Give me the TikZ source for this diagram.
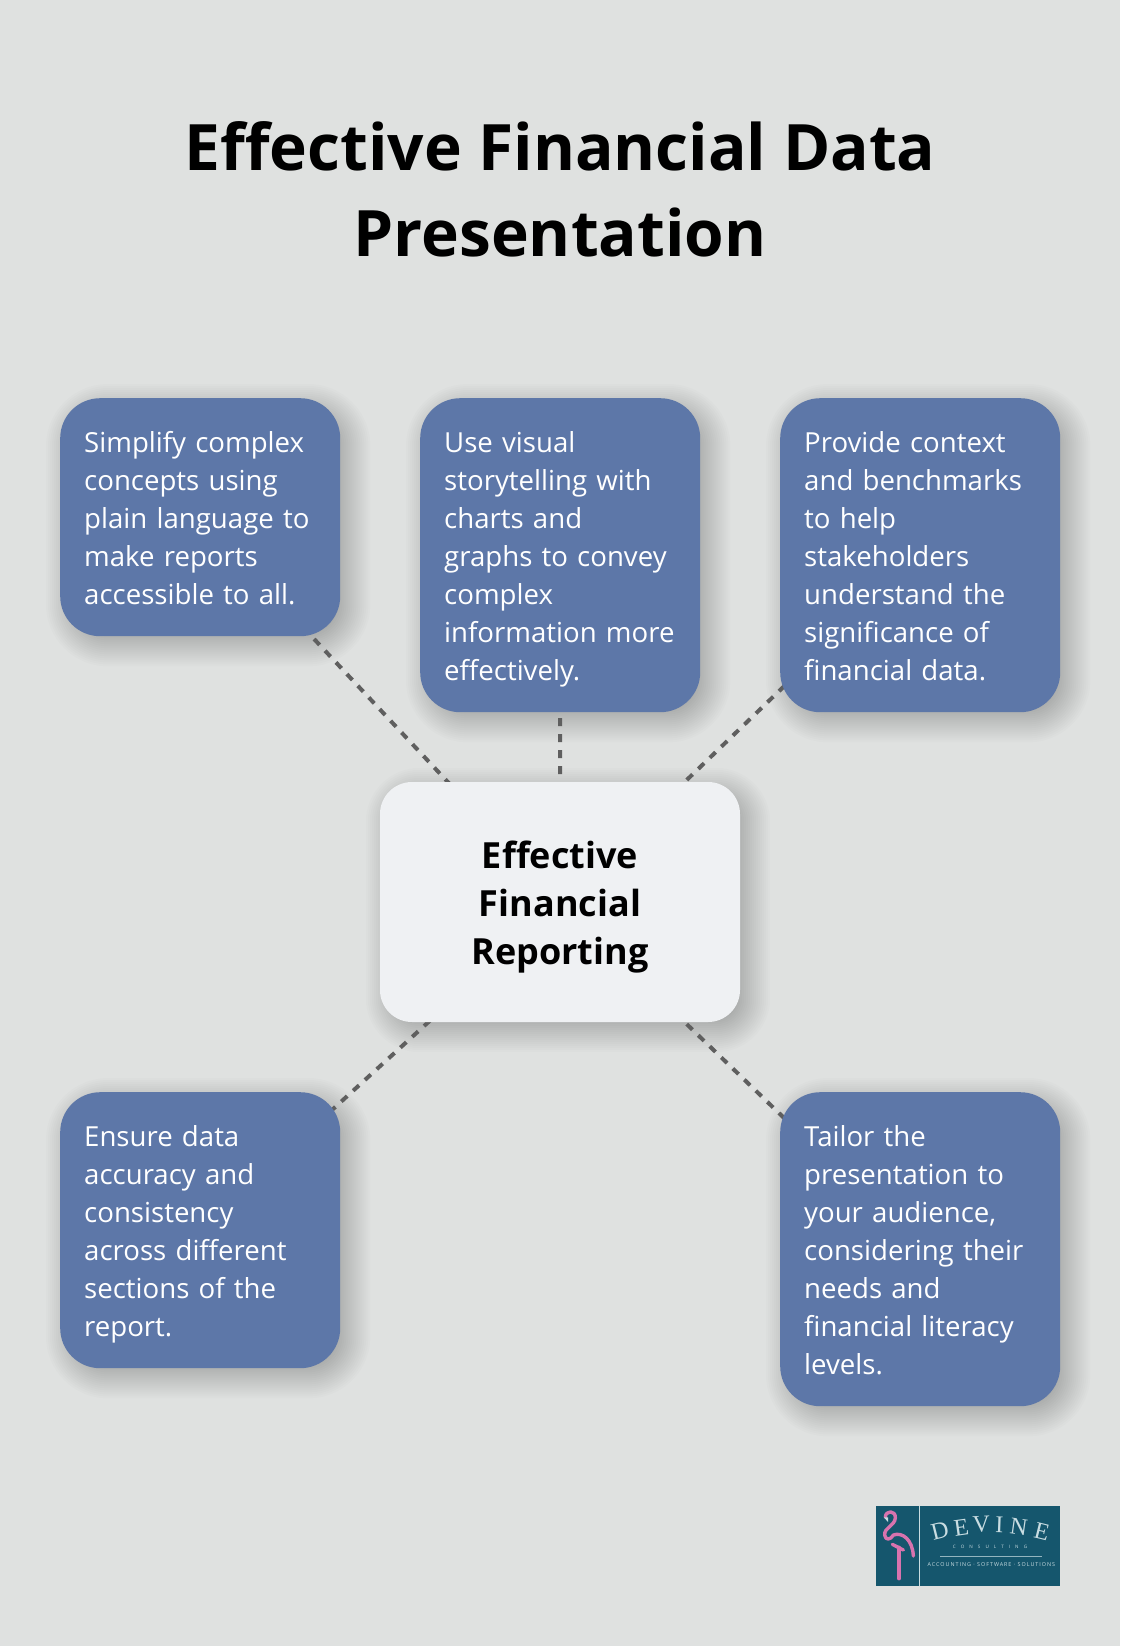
\documentclass[tikz,border=0pt]{standalone}
\usepackage{fontspec}
\setmainfont{Open Sans}
\newfontfamily\logoserif{Liberation Serif}
\newfontfamily\logocaps[LetterSpace=110]{Open Sans}
\newfontfamily\logotag[LetterSpace=18]{Open Sans}
\usetikzlibrary{calc}
\definecolor{bgc}{HTML}{DFE1E0}
\definecolor{boxc}{HTML}{5D77A8}
\definecolor{hubc}{HTML}{EFF1F3}
\definecolor{dashc}{HTML}{5F5F5F}
\definecolor{logoc}{HTML}{15566D}
\definecolor{pinkc}{HTML}{D873AE}
\definecolor{logotxt}{HTML}{C9DDE2}
\newcommand{\topstrut}{\rule{0pt}{30pt}}
\newcommand{\botstrut}{\rule[-8pt]{0pt}{8pt}}
\pgfdeclarelayer{canvas}
\pgfdeclarelayer{under}
\pgfsetlayers{canvas,under,main}
\tikzset{
  titletext/.style={font=\fontsize{64}{86}\selectfont\bfseries,text=black,align=center,inner sep=0pt},
  infobox/.style={fill=boxc,text=white,rounded corners=40pt,inner sep=24pt,text width=232pt,align=left,
    anchor=north west,font=\fontsize{27.6}{38}\selectfont},
  hubbox/.style={fill=hubc,text=black,rounded corners=32pt,inner sep=0pt,minimum width=360pt,minimum height=240pt,
    align=center,font=\fontsize{36}{48}\selectfont\bfseries},
  linkline/.style={draw=dashc,line width=4pt,dash pattern=on 8pt off 8pt},
  flamingo/.style={draw=pinkc,line width=3.4pt,line cap=round,line join=round},
  logoletter/.style={text=logotxt,inner sep=0pt,font=\logoserif\fontsize{24}{24}\selectfont},
  logosmall/.style={text=logotxt,inner sep=0pt},
}
\begin{document}
\begin{tikzpicture}[x=1pt,y=-1pt]
\useasboundingbox (0,0) rectangle (1120,1646);
\begin{pgfonlayer}{canvas}
\fill[bgc] (0,0) rectangle (1120,1646);
\end{pgfonlayer}
\node[titletext] (title) at (560,189) {Effective Financial Data\\Presentation};
\node[infobox] (b1) at (60,398) {\topstrut Simplify complex\\concepts using\\plain language to\\make reports\\accessible to all.\botstrut};
\node[infobox] (b2) at (420,398) {\topstrut Use visual\\storytelling with\\charts and\\graphs to convey\\complex\\\makebox[232pt][l]{information more}\\effectively.\botstrut};
\node[infobox] (b3) at (780,398) {\topstrut Provide context\\and benchmarks\\to help\\stakeholders\\understand the\\significance of\\financial data.\botstrut};
\node[infobox] (b4) at (60,1092) {\topstrut Ensure data\\accuracy and\\consistency\\across different\\sections of the\\report.\botstrut};
\node[infobox] (b5) at (780,1092) {\topstrut Tailor the\\presentation to\\your audience,\\considering their\\needs and\\financial literacy\\levels.\botstrut};
\node[hubbox] (hub) at (560,902) {\rule{0pt}{37pt}Effective\\Financial\\Reporting};
\begin{pgfonlayer}{under}
  \foreach \n/\r in {b1/40,b2/40,b3/40,b4/40,b5/40,hub/32}{
    \foreach \k in {-14,-12,...,22}{
      \pgfmathsetmacro{\rad}{\r+\k}
      \fill[black,fill opacity=.013,rounded corners=\rad pt]
        ($(\n.south west)+(8-\k,8+\k)$) rectangle ($(\n.north east)+(8+\k,8-\k)$);
    }
  }
  \foreach \n in {b1,b2,b3,b4,b5}{
    \draw[linkline] (hub.center) -- (\n.center);
  }
\end{pgfonlayer}
% logo
\begin{scope}[shift={(860,1490)},x=.33333pt,y=-.33333pt]
  \fill[logoc] (48,48) coordinate (logoa) rectangle (600,288) coordinate (logob);
  \draw[logotxt,line width=.8pt] (179,48) -- (179,288);
  \draw[flamingo] (76,82) .. controls (76,60) and (108,60) .. (106,84) .. controls (104,108) and (72,112) .. (74,135)
    .. controls (76,152) and (92,150) .. (100,135) .. controls (128,125) and (158,150) .. (160,198);
  \draw[flamingo] (97,163) -- (130,180);
  \draw[flamingo] (117,172) -- (117,266);
  \fill[logotxt] (72,82) -- (84,82) -- (84,96) -- cycle;
  \node[logoletter,rotate=14] (l1) at (240,123) {D};
  \node[logoletter,rotate=8] (l2) at (304,112) {E};
  \node[logoletter,rotate=3] (l3) at (364,104) {V};
  \node[logoletter,rotate=-2] (l4) at (418,103) {I};
  \node[logoletter,rotate=-8] (l5) at (476,110) {N};
  \node[logoletter,rotate=-14] (l6) at (546,125) {E};
  \node[logosmall,font=\logocaps\fontsize{4.6}{6}\selectfont] (l7) at (390,172) {CONSULTING};
  \draw[logotxt!70!logoc,line width=.4pt] (240,199) -- (546,199);
  \node[logosmall,font=\logotag\fontsize{5.4}{6}\selectfont] (l8) at (394,223) {ACCOUNTING · SOFTWARE · SOLUTIONS};
\end{scope}
\end{tikzpicture}
\end{document}
